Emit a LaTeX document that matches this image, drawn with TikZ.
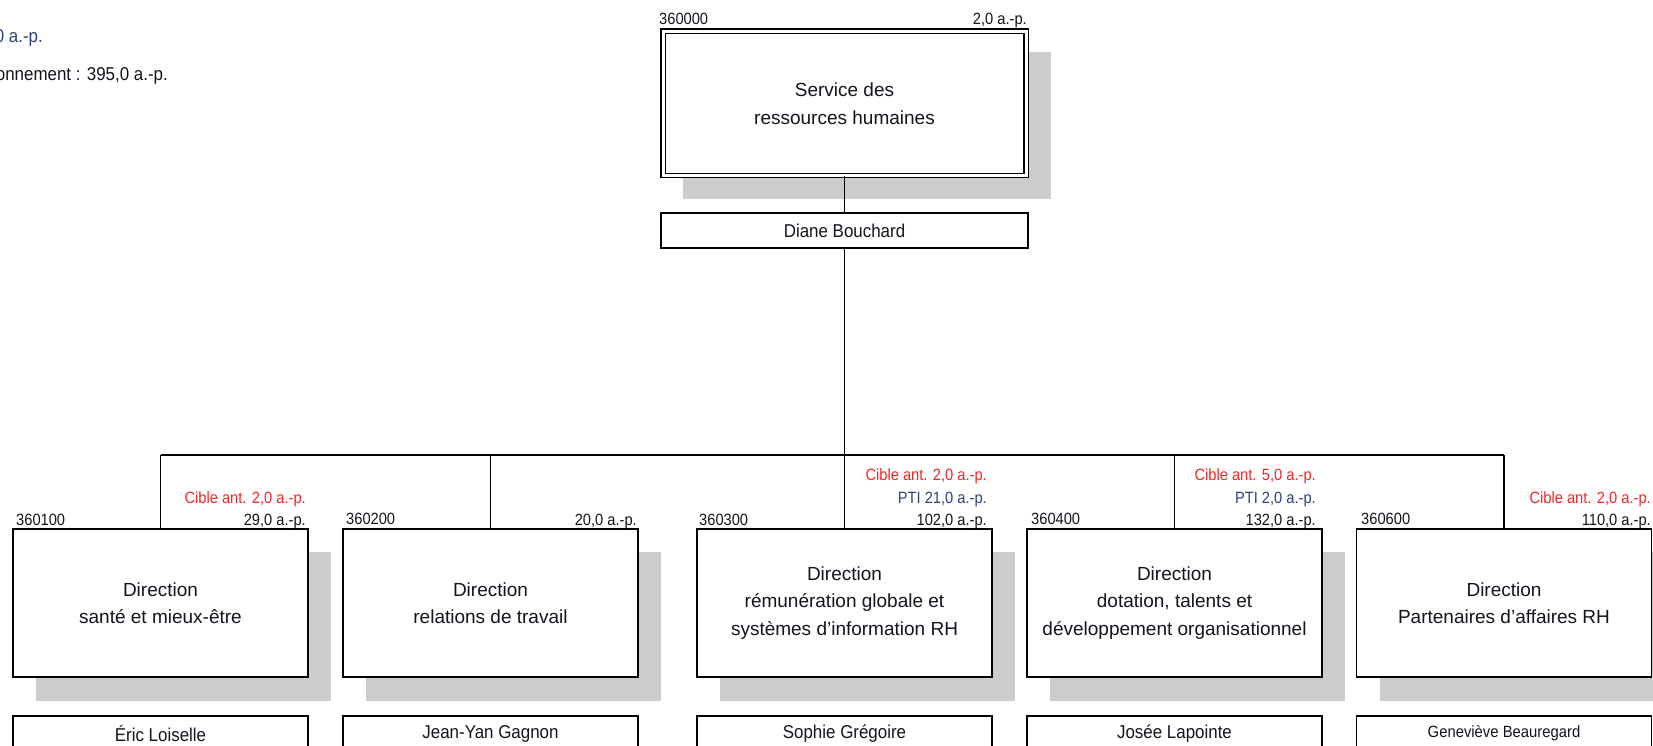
\documentclass[tikz,border=0pt]{standalone}
\usepackage{fontspec}
\setmainfont{Liberation Sans}
\newfontfamily\labfont[FakeStretch=0.9]{Liberation Sans}
\newfontfamily\namefont[FakeStretch=0.91]{Liberation Sans}
\usetikzlibrary{calc}
\definecolor{cible}{RGB}{250,35,35}
\definecolor{pti}{RGB}{45,65,125}
\definecolor{shadowgray}{RGB}{204,204,204}
\definecolor{ink}{RGB}{20,20,30}
\begin{document}
\begin{tikzpicture}[x=1pt,y=-1pt,
  unitbox/.style={draw=black, line width=1.8pt, fill=white, minimum width=295pt, minimum height=148pt, inner sep=0pt, align=center, text=ink, font=\fontsize{19}{27.5}\selectfont},
  topbox/.style={draw=black, line width=1.3pt, double=white, double distance=3pt, fill=white, minimum width=363pt, minimum height=144.5pt, inner sep=0pt, align=center, text=ink, font=\fontsize{19}{28}\selectfont},
  namebox/.style={draw=black, line width=1.6pt, fill=white, minimum width=295pt, minimum height=35pt, inner sep=0pt, text=ink, font=\namefont\fontsize{18.6}{20}\selectfont},
  conn/.style={draw=black, line width=1.5pt},
  lab/.style={inner sep=0pt, text=ink, font=\labfont\fontsize{16.3}{20}\selectfont},
  ciblelab/.style={lab, text=cible},
  ptilab/.style={lab, text=pti},
  hdr/.style={inner sep=0pt, font=\namefont\fontsize{18.6}{20}\selectfont},
  shadowfill/.style={fill=shadowgray, draw=none}
]
\useasboundingbox (0,0) rectangle (1653,745);

% header texts (cut at the left edge, as in the reference)
\node[hdr, text=pti, anchor=base east] (h1) at (43,42) {0 a.-p.};
\node[hdr, text=ink, anchor=base east] (h2) at (168,80) {onnement : 395,0 a.-p.};

% shadows
\path[shadowfill] (683,52) rectangle (1051,199);
\foreach \cx in {160.5,490.5,844.5,1174.5,1504}{
  \path[shadowfill] (\cx-147.5+23,552) rectangle (\cx+147.5+23,701);
}

% top unit
\node[topbox] (top) at (844.5,103.25) {Service des\\ressources humaines};
\node[lab, anchor=base west] (topcode) at (659,24) {360000};
\node[lab, anchor=base east] (topnb) at (1027,24) {2,0 a.-p.};
\node[namebox, minimum width=367pt] (diane) at (844.5,230.5) {Diane Bouchard};

% bottom units
\node[unitbox] (u1) at (160.5,603) {Direction\\santé et mieux-être};
\node[unitbox] (u2) at (490.5,603) {Direction\\relations de travail};
\node[unitbox] (u3) at (844.5,603) {Direction\\rémunération globale et\\systèmes d’information RH};
\node[unitbox] (u4) at (1174.5,603) {Direction\\dotation, talents et\\développement organisationnel};
\node[unitbox] (u5) at (1504,603) {Direction\\Partenaires d’affaires RH};

% managers
\node[namebox] (n1) at (160.5,733.5) {Éric Loiselle};
\node[namebox] (n2) at (490.5,733.5) {Jean-Yan Gagnon};
\node[namebox] (n3) at (844.5,733.5) {Sophie Grégoire};
\node[namebox] (n4) at (1174.5,733.5) {Josée Lapointe};
\node[namebox, font=\namefont\fontsize{16.3}{20}\selectfont] (n5) at (1504,733.5) {Geneviève Beauregard};

% connectors
\coordinate (busL) at (160.5,455);
\coordinate (busR) at (1504,455);
\draw[conn] (top.south) -- (diane.north);
\draw[conn] (diane.south) -- (diane.south |- busL);
\draw[conn] (busL) -- (busR);
\foreach \u in {u1,u2,u3,u4,u5}{
  \draw[conn] (\u.north |- busL) -- (\u.north);
}

% labels of unit 1
\node[lab, anchor=base west] (c1) at (16,525) {360100};
\node[lab, anchor=base east] (e1) at (306,525) {29,0 a.-p.};
\node[ciblelab, anchor=base east] (t1) at (306,503.5) {Cible ant. 2,0 a.-p.};
% unit 2
\node[lab, anchor=base west] (c2) at (346,524) {360200};
\node[lab, anchor=base east] (e2) at (637,525) {20,0 a.-p.};
% unit 3
\node[lab, anchor=base west] (c3) at (699,525) {360300};
\node[lab, anchor=base east] (e3) at (987,525) {102,0 a.-p.};
\node[ptilab, anchor=base east] (p3) at (987,503.5) {PTI 21,0 a.-p.};
\node[ciblelab, anchor=base east] (t3) at (987,480) {Cible ant. 2,0 a.-p.};
% unit 4
\node[lab, anchor=base west] (c4) at (1031,524) {360400};
\node[lab, anchor=base east] (e4) at (1316,525) {132,0 a.-p.};
\node[ptilab, anchor=base east] (p4) at (1316,503.5) {PTI 2,0 a.-p.};
\node[ciblelab, anchor=base east] (t4) at (1316,480) {Cible ant. 5,0 a.-p.};
% unit 5
\node[lab, anchor=base west] (c5) at (1361,524) {360600};
\node[lab, anchor=base east] (e5) at (1651,525) {110,0 a.-p.};
\node[ciblelab, anchor=base east] (t5) at (1651,503.5) {Cible ant. 2,0 a.-p.};
\end{tikzpicture}
\end{document}
